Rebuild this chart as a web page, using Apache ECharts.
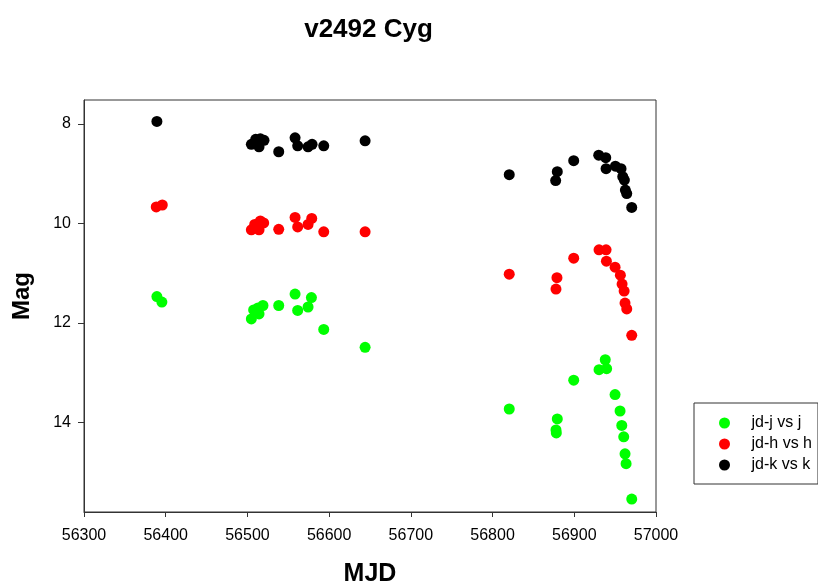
<!DOCTYPE html>
<html>
<head>
<meta charset="utf-8">
<script src="https://cdn.jsdelivr.net/npm/echarts@6/dist/echarts.min.js"></script>
<style>html,body{margin:0;padding:0;background:#fff}#c{width:818px;height:584px}</style>
</head>
<body>
<div id="c"></div>
<script>
var title = 'v2492 Cyg';
var xTicks = [56300, 56400, 56500, 56600, 56700, 56800, 56900, 57000];
var yTicks = [8, 10, 12, 14];

var jdJ = [56389.2, 56395.3, 56504.8, 56507.6, 56512.9, 56514.2, 56519.0, 56538.3, 56558.3, 56561.5, 56574.2, 56578.3, 56593.4, 56644.0,
           56820.4, 56879.2, 56877.6, 56878.0, 56899.3, 56930.3, 56937.9, 56939.6, 56949.9, 56956.0, 56958.1, 56960.5, 56962.1, 56963.4, 56970.3];
var magJ = [11.47, 11.58, 11.92, 11.74, 11.70, 11.82, 11.65, 11.65, 11.42, 11.75, 11.68, 11.49, 12.13, 12.49,
           13.73, 13.93, 14.15, 14.21, 13.15, 12.94, 12.74, 12.92, 13.44, 13.77, 14.06, 14.29, 14.63, 14.83, 15.54];

var jdH = [56388.4, 56395.8, 56504.8, 56508.9, 56515.8, 56519.9, 56514.2, 56538.3, 56558.3, 56561.5, 56574.2, 56578.7, 56593.4, 56644.0,
           56820.4, 56878.8, 56877.6, 56899.3, 56930.3, 56938.9, 56939.3, 56949.9, 56956.4, 56958.5, 56961.0, 56962.1, 56964.2, 56970.3];
var magH = [9.67, 9.63, 10.13, 10.02, 9.95, 9.99, 10.13, 10.12, 9.88, 10.07, 10.02, 9.90, 10.17, 10.17,
           11.02, 11.09, 11.32, 10.70, 10.53, 10.53, 10.76, 10.88, 11.04, 11.22, 11.36, 11.60, 11.72, 12.25];

var jdK = [56389.2, 56504.8, 56510.1, 56515.8, 56520.3, 56514.2, 56511.0, 56538.3, 56558.3, 56561.5, 56574.2, 56579.1, 56593.4, 56644.0,
           56820.4, 56879.2, 56877.2, 56899.3, 56929.9, 56938.5, 56938.9, 56950.3, 56957.2, 56959.3, 56961.3, 56962.5, 56964.2, 56970.3];
var magK = [7.95, 8.41, 8.31, 8.30, 8.33, 8.46, 8.39, 8.56, 8.28, 8.44, 8.46, 8.41, 8.44, 8.34,
           9.02, 8.96, 9.14, 8.74, 8.63, 8.68, 8.90, 8.85, 8.90, 9.06, 9.13, 9.33, 9.40, 9.68];

var seriesNames = ['jd-j vs j', 'jd-h vs h', 'jd-k vs k'];
var seriesColors = ['#00ff00', '#ff0000', '#000000'];

function pairs(xs, ys) { return xs.map(function (x, i) { return [x, ys[i]]; }); }

var chart = echarts.init(document.getElementById('c'));
var font = 'Arial, "Liberation Sans", Helvetica, sans-serif';
var axisColor = '#333';

chart.setOption({
  animation: false,
  backgroundColor: '#fff',
  textStyle: { fontFamily: font },
  grid: { left: 84, top: 100, width: 572, height: 412, outerBoundsMode: 'none', containLabel: false,
          show: true, borderColor: axisColor, borderWidth: 1, backgroundColor: 'transparent' },
  legend: {
    orient: 'vertical', left: 694, top: 403,
    padding: [12, 6, 11, 25], itemGap: 5, itemWidth: 44, itemHeight: 11,
    borderColor: axisColor, borderWidth: 1,
    icon: 'circle',
    data: seriesNames,
    textStyle: { fontSize: 16, color: '#000', fontFamily: font }
  },
  xAxis: {
    type: 'value', min: xTicks[0], max: xTicks[xTicks.length - 1], interval: 100,
    name: 'MJD', nameLocation: 'middle', nameGap: 50,
    nameTextStyle: { fontSize: 25, fontWeight: 'bold', color: '#000', fontFamily: font },
    axisLine: { show: true, lineStyle: { color: axisColor, width: 1 } },
    axisTick: { show: true, length: 5, lineStyle: { color: axisColor } },
    axisLabel: { fontSize: 16, color: '#000', margin: 16, fontFamily: font, formatter: function (v) { return String(v); } },
    splitLine: { show: false }
  },
  yAxis: {
    type: 'value', inverse: true, min: 7.52, max: 15.8,
    axisLine: { show: true, lineStyle: { color: axisColor, width: 1 } },
    axisTick: { show: true, length: 6, customValues: yTicks, lineStyle: { color: axisColor } },
    axisLabel: { fontSize: 16, color: '#000', margin: 13, customValues: yTicks, fontFamily: font, formatter: function (v) { return String(v); } },
    splitLine: { show: false }
  },
  graphic: [{
    type: 'text', x: 368.5, y: 30,
    style: { text: title, font: 'bold 26px ' + font, fill: '#000', align: 'center', verticalAlign: 'middle' }
  }, {
    type: 'text', left: 10, top: 272, rotation: Math.PI / 2,
    style: { text: 'Mag', font: 'bold 24px ' + font, fill: '#000' }
  }],
  series: [
    { name: seriesNames[0], type: 'scatter', data: pairs(jdJ, magJ), symbolSize: 11, itemStyle: { color: seriesColors[0], opacity: 1 } },
    { name: seriesNames[1], type: 'scatter', data: pairs(jdH, magH), symbolSize: 11, itemStyle: { color: seriesColors[1], opacity: 1 } },
    { name: seriesNames[2], type: 'scatter', data: pairs(jdK, magK), symbolSize: 11, itemStyle: { color: seriesColors[2], opacity: 1 } }
  ]
});
</script>
</body>
</html>
